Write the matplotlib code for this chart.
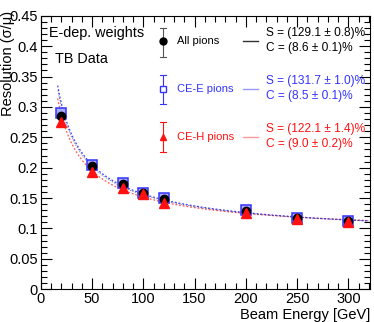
import numpy as np
import matplotlib
matplotlib.use("Agg")
import matplotlib.pyplot as plt
from matplotlib.ticker import MultipleLocator

plt.rcParams['font.family'] = ['Liberation Sans', 'DejaVu Sans']

energy = [20, 50, 80, 100, 120, 200, 250, 300]
res_all = [0.285, 0.203, 0.173, 0.159, 0.148, 0.128, 0.117, 0.112]
res_cee = [0.290, 0.204, 0.175, 0.159, 0.150, 0.130, 0.117, 0.112]
res_ceh = [0.275, 0.1935, 0.166, 0.157, 0.1425, 0.126, 0.116, 0.111]
err_all = [0.003, 0.002, 0.002, 0.002, 0.002, 0.001, 0.001, 0.001]

fit_S = {'all': 1.291, 'cee': 1.317, 'ceh': 1.221}
fit_C = {'all': 0.086, 'cee': 0.085, 'ceh': 0.090}
fit_text = {
    'all': ("S = (129.1 ± 0.8)%", "C = (8.6 ± 0.1)%"),
    'cee': ("S = (131.7 ± 1.0)%", "C = (8.5 ± 0.1)%"),
    'ceh': ("S = (122.1 ± 1.4)%", "C = (9.0 ± 0.2)%"),
}
labels = {'all': "All pions", 'cee': "CE-E pions", 'ceh': "CE-H pions"}

BLUE = '#3333ff'
RED = '#ff1111'
LBLUE = '#9999ff'
LRED = '#ff9999'

fig = plt.figure(figsize=(3.74, 3.22), dpi=100)
ax = fig.add_axes([0.109, 0.1016, 0.880, 0.8496])

E = np.linspace(16.5, 320, 400)
def fit(k):
    return np.sqrt(fit_S[k]**2 / E + fit_C[k]**2)

ax.plot(E, fit('ceh'), color=RED, lw=0.9, ls=(0, (1.5, 1.5)), alpha=0.7, zorder=2)
ax.plot(E, fit('cee'), color=BLUE, lw=0.9, ls=(0, (1.5, 1.5)), alpha=0.9, zorder=2)
ax.plot(E, fit('all'), color='#222266', lw=0.6, ls=(1.5, (1.5, 1.5)), alpha=0.6, zorder=2)

ax.errorbar(energy, res_cee, yerr=err_all, fmt='s', ms=6.8, mfc='#aaaaff', mec=BLUE,
            mew=1.1, ecolor=BLUE, elinewidth=0.8, zorder=3)
ax.errorbar(energy, res_all, yerr=err_all, fmt='o', ms=6, color='black',
            ecolor='black', elinewidth=0.8, zorder=4)
ax.errorbar(energy, res_ceh, yerr=err_all, fmt='^', ms=7, color=RED,
            ecolor=RED, elinewidth=0.8, zorder=5)

ax.set_xlim(0, 321)
ax.set_ylim(0, 0.45)
ax.xaxis.set_major_locator(MultipleLocator(50))
ax.xaxis.set_minor_locator(MultipleLocator(10))
ax.yaxis.set_minor_locator(MultipleLocator(0.01))
ax.set_yticks([0, 0.05, 0.1, 0.15, 0.2, 0.25, 0.3, 0.35, 0.4, 0.45])
ax.set_yticklabels(['0', '0.05', '0.1', '0.15', '0.2', '0.25', '0.3', '0.35', '0.4', '0.45'])
ax.tick_params(which='both', direction='in', top=True, right=True, labelsize=10.5, pad=2)
ax.tick_params(which='major', length=8, width=0.8)
ax.tick_params(which='minor', length=4, width=0.8)
for s in ax.spines.values():
    s.set_linewidth(0.8)

fig.text(8 / 374, (322 - 11) / 322, "Resolution (σ/μ)", rotation=90, fontsize=10.5,
         ha='center', va='top')
fig.text(370 / 374, (322 - 315) / 322, "Beam Energy [GeV]", fontsize=10.5,
         ha='right', va='center')

T = ax.transAxes
ax.text(0.025, 0.937, "E-dep. weights", transform=T, fontsize=10.4, va='center', ha='left')
ax.text(0.044, 0.843, "TB Data", transform=T, fontsize=10.4, va='center', ha='left')

rows = [
    ('all', 0.9075, (0.9545, 0.8475), 'o', 'black', '#555555', 'black', 'black', '#333333'),
    ('cee', 0.732, (0.782, 0.676), 's', BLUE, BLUE, 'none', BLUE, LBLUE),
    ('ceh', 0.557, (0.612, 0.502), '^', RED, RED, RED, RED, LRED),
]
mx = 0.371
for key, yc, (yt, yb), mk, mcol, ecol, mfc, tcol, lcol in rows:
    ax.plot([mx, mx], [yb, yt], color=ecol, lw=0.8, transform=T, clip_on=False)
    ax.plot([mx - 0.008, mx + 0.008], [yt, yt], color=ecol, lw=0.8, transform=T, clip_on=False)
    ax.plot([mx - 0.008, mx + 0.008], [yb, yb], color=ecol, lw=0.8, transform=T, clip_on=False)
    ax.plot([mx], [yc], marker=mk, ms=5, mfc=mfc if mfc != 'none' else 'white', mec=mcol,
            mew=1.0, transform=T, clip_on=False, zorder=6)
    ax.text(0.414, yc, labels[key], transform=T, fontsize=8, color=tcol, va='center', ha='left')
    ax.plot([0.614, 0.660], [yc, yc], color=lcol, lw=1.0, transform=T)
    s_txt, c_txt = fit_text[key]
    ax.text(0.684, yc + 0.029, s_txt, transform=T, fontsize=8.6, color=tcol, va='center', ha='left')
    ax.text(0.684, yc - 0.026, c_txt, transform=T, fontsize=8.6, color=tcol, va='center', ha='left')

fig.savefig("out.png", dpi=100)
